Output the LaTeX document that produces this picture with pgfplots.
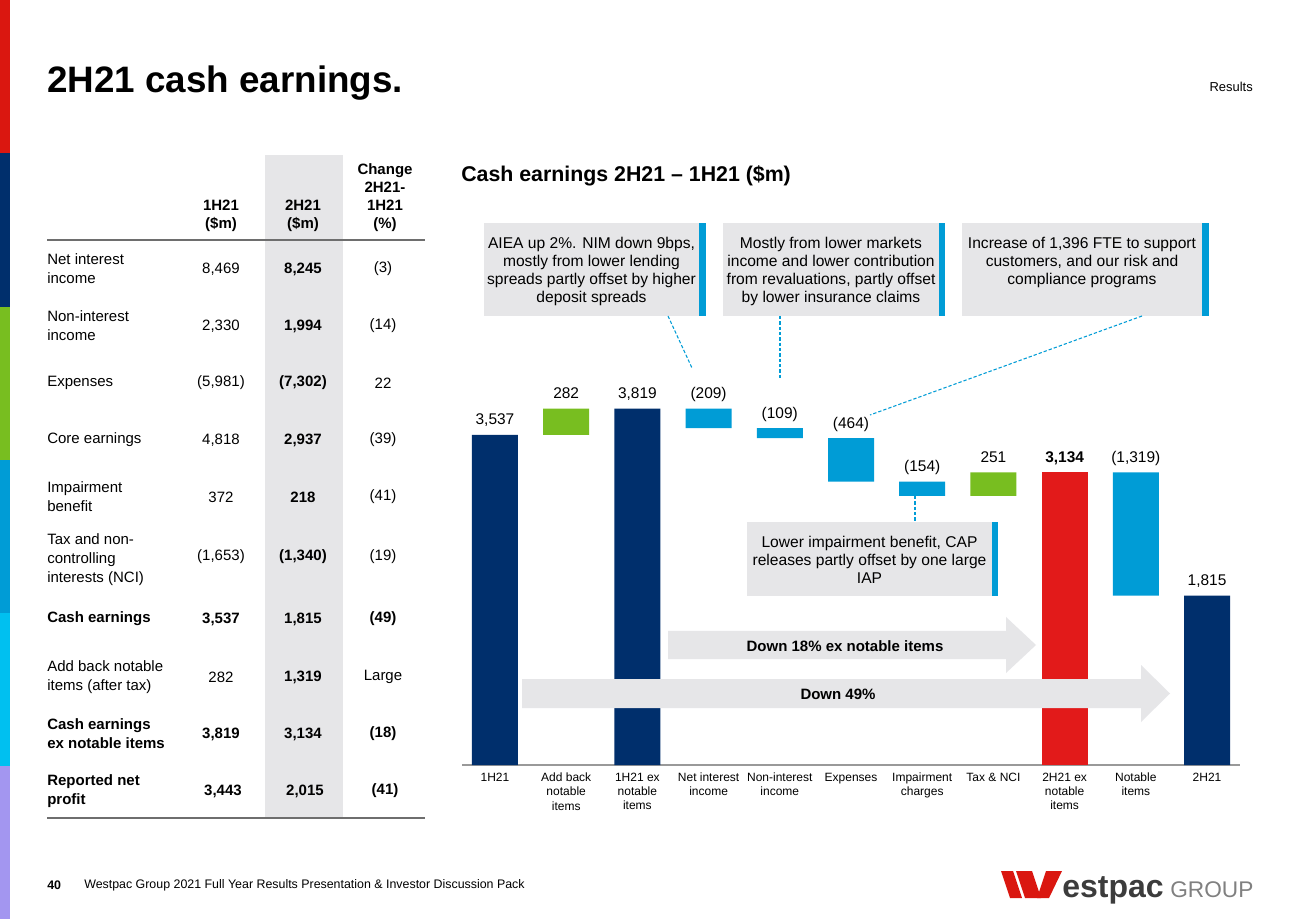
\documentclass[border=0pt]{standalone}
\usepackage{fontspec}
\setmainfont{Liberation Sans}
\usepackage{pgfplots}
\pgfplotsset{compat=1.18}
\usepackage{pgfplotstable}

\definecolor{navy}{HTML}{002F6C}
\definecolor{wgreen}{HTML}{78BE20}
\definecolor{wblue}{HTML}{009CD6}
\definecolor{wred}{HTML}{E21A1A}
\definecolor{boxgrey}{HTML}{E6E6E8}
\definecolor{stred}{HTML}{DA1710}
\definecolor{stcyan}{HTML}{00C0F0}
\definecolor{stlav}{HTML}{A396F0}
\definecolor{rulegrey}{HTML}{6E6E6E}
\definecolor{logogrey}{HTML}{3C3C3C}

\newcommand{\fs}[2]{\fontsize{#1}{#2}\selectfont}
\tikzset{lbl/.style={anchor=base, inner sep=0, yshift=7.5pt, font=\fs{11.6pt}{13pt}}}

\pgfplotstableread{
x base navy green blue red
0 0 3537 0 0 0
1 3537 0 282 0 0
2 0 3819 0 0 0
3 3610 0 0 209 0
4 3501 0 0 109 0
5 3037 0 0 464 0
6 2883 0 0 154 0
7 2883 0 251 0 0
8 0 0 0 0 3134
9 1815 0 0 1319 0
10 0 1815 0 0 0
}\wfdata

\begin{document}
\begin{tikzpicture}
\begin{scope}[x=0.75pt,y=-0.75pt]
\path[use as bounding box] (0,0) rectangle (1300,919);
\fill[white] (0,0) rectangle (1300,919);
% left stripe
\fill[stred] (0,0) rectangle (10,153);
\fill[navy] (0,153) rectangle (10,307);
\fill[wgreen] (0,307) rectangle (10,460);
\fill[wblue] (0,460) rectangle (10,613);
\fill[stcyan] (0,613) rectangle (10,766);
\fill[stlav] (0,766) rectangle (10,919);

% title
\node[anchor=base west, inner sep=0] at (47,93) {\fs{27.6pt}{30pt}\bfseries 2H21 cash earnings.};
\node[anchor=east, inner sep=0] at (1253,87) {\fs{9.7pt}{11pt}Results};

% table
\fill[boxgrey] (265,155) rectangle (343,818);
\draw[rulegrey, line width=1.2pt] (47,240) -- (425,240);
\draw[rulegrey, line width=1.2pt] (47,818) -- (425,818);
\begin{scope}[every node/.style={inner sep=0, align=center, font=\fs{11.25pt}{13.5pt}\bfseries}]
\node at (221,216) {1H21\\(\$m)};
\node at (303,216) {2H21\\(\$m)};
\node at (385,198) {Change\\2H21-\\1H21\\(\%)};
\end{scope}
\begin{scope}[every node/.style={inner sep=0, align=left, anchor=west, font=\fs{11.25pt}{14.25pt}}]
\node at (47,269) {Net interest\\income};
\node at (47,326) {Non-interest\\income};
\node at (47,383) {Expenses};
\node at (47,440) {Core earnings};
\node at (47,497) {Impairment\\benefit};
\node at (47,560) {Tax and non-\\controlling\\interests (NCI)};
\node at (47,677) {Add back notable\\items (after tax)};
\end{scope}
\begin{scope}[every node/.style={inner sep=0, align=left, anchor=west, font=\fs{11.25pt}{14.25pt}\bfseries}]
\node at (47,619) {Cash earnings};
\node at (47,734) {Cash earnings\\ex notable items};
\node at (47,791) {Reported net\\profit};
\end{scope}
\begin{scope}[every node/.style={inner sep=0, font=\fs{11.25pt}{14.25pt}}]
\node at (221,269) {8,469};   \node at (303,269) {\bfseries 8,245};   \node at (383,269) {(3)};
\node at (221,326) {2,330};   \node at (303,326) {\bfseries 1,994};   \node at (383,326) {(14)};
\node at (221,383) {(5,981)}; \node at (303,383) {\bfseries (7,302)}; \node at (383,383) {22};
\node at (221,440) {4,818};   \node at (303,440) {\bfseries 2,937};   \node at (383,440) {(39)};
\node at (221,497) {372};     \node at (303,497) {\bfseries 218};     \node at (383,497) {(41)};
\node at (221,557) {(1,653)}; \node at (303,557) {\bfseries (1,340)}; \node at (383,557) {(19)};
\node at (221,619) {\bfseries 3,537}; \node at (303,619) {\bfseries 1,815}; \node at (383,619) {\bfseries (49)};
\node at (221,677) {282};     \node at (303,677) {\bfseries 1,319};   \node at (383,677) {Large};
\node at (221,734) {\bfseries 3,819}; \node at (303,734) {\bfseries 3,134}; \node at (383,734) {\bfseries (18)};
\node at (223,791) {\bfseries 3,443}; \node at (305,791) {\bfseries 2,015}; \node at (385,791) {\bfseries (41)};
\end{scope}

% chart title
\node[anchor=west, inner sep=0] at (461,176) {\fs{16pt}{18pt}\bfseries Cash earnings 2H21 -- 1H21 (\$m)};

% annotation boxes
\fill[boxgrey] (484,223) rectangle (699,316); \fill[wblue] (699,223) rectangle (706,316);
\fill[boxgrey] (723,223) rectangle (939,316); \fill[wblue] (939,223) rectangle (945,316);
\fill[boxgrey] (962,223) rectangle (1202,316); \fill[wblue] (1202,223) rectangle (1209,316);
\fill[boxgrey] (747,522) rectangle (992,596); \fill[wblue] (992,522) rectangle (998,596);
\begin{scope}[every node/.style={inner sep=0, align=center, font=\fs{11.7pt}{13.5pt}}]
\node at (591.5,271) {AIEA up 2\%. NIM down 9bps,\\mostly from lower lending\\spreads partly offset by higher\\deposit spreads};
\node at (831,271) {Mostly from lower markets\\income and lower contribution\\from revaluations, partly offset\\by lower insurance claims};
\node at (1082,262) {Increase of 1,396 FTE to support\\customers, and our risk and\\compliance programs};
\node at (869.5,560) {Lower impairment benefit, CAP\\releases partly offset by one large\\IAP};
\end{scope}
\begin{scope}[wblue, line width=0.8pt, dash pattern=on 2.5pt off 1.5pt]
\draw (668,316) -- (692,368);
\draw (780,316) -- (780,378);
\draw (1142,316) -- (870,415);
\draw (915,496) -- (915,522);
\end{scope}
\end{scope}

% waterfall
\begin{axis}[at={(346.5pt,-573.75pt)}, anchor=south west,
  width=583.5pt, height=420pt, scale only axis,
  xmin=-0.463, xmax=10.463, ymin=0, ymax=6000,
  axis x line=bottom, axis y line=none,
  x axis line style={-, draw=gray!80, line width=1.2pt},
  ytick=\empty,
  xtick={0,...,10},
  xticklabels={{1H21},{Add back\\notable\\items},{1H21 ex\\notable\\items},{Net interest\\income},{Non-interest\\income},{Expenses},{Impairment\\charges},{Tax \& NCI},{2H21 ex\\notable\\items},{Notable\\items},{2H21}},
  major tick length=0,
  xticklabel style={font=\fs{9pt}{10.6pt}, align=center, anchor=north, yshift=-2.5pt},
  ybar stacked, bar width=34.5pt,
  clip=false]
\addplot[draw=none, fill=none] table[x=x,y=base]{\wfdata};
\addplot[draw=none, fill=navy] table[x=x,y=navy]{\wfdata};
\addplot[draw=none, fill=wgreen] table[x=x,y=green]{\wfdata};
\addplot[draw=none, fill=wblue] table[x=x,y=blue]{\wfdata};
\addplot[draw=none, fill=wred] table[x=x,y=red]{\wfdata};
\node[lbl] at (axis cs:0,3537) {3,537};
\node[lbl] at (axis cs:1,3819) {282};
\node[lbl] at (axis cs:2,3819) {3,819};
\node[lbl] at (axis cs:3,3819) {(209)};
\node[lbl] at (axis cs:4,3610) {(109)};
\node[lbl] at (axis cs:5,3501) {(464)};
\node[lbl] at (axis cs:6,3037) {(154)};
\node[lbl] at (axis cs:7,3134) {251};
\node[lbl] at (axis cs:8,3134) {\bfseries 3,134};
\node[lbl] at (axis cs:9,3134) {(1,319)};
\node[lbl] at (axis cs:10,1815) {1,815};
\end{axis}

\begin{scope}[x=0.75pt,y=-0.75pt]
% arrows
\fill[boxgrey] (668,631) -- (1006,631) -- (1006,617) -- (1036,645) -- (1006,673) -- (1006,659) -- (668,659) -- cycle;
\node[inner sep=0] at (845,646) {\fs{11.25pt}{13pt}\bfseries Down 18\% ex notable items};
\fill[boxgrey] (522,679) -- (1141,679) -- (1141,665) -- (1170,693.5) -- (1141,722) -- (1141,708) -- (522,708) -- cycle;
\node[inner sep=0] at (838,694) {\fs{11.25pt}{13pt}\bfseries Down 49\%};

% footer
\node[anchor=west, inner sep=0] at (47,885) {\fs{9.3pt}{11pt}\bfseries 40};
\node[anchor=west, inner sep=0] at (84,885) {\fs{9.3pt}{11pt}Westpac Group 2021 Full Year Results Presentation \& Investor Discussion Pack};
% logo
\fill[stred] (1001,871) -- (1013,871) -- (1022,898) -- (1010,898) -- cycle;
\fill[stred] (1016,871) -- (1032,871) -- (1041,898) -- (1025,898) -- cycle;
\fill[stred] (1046,871) -- (1062,871) -- (1049,898) -- (1037,898) -- cycle;
\node[anchor=base west, inner sep=0] at (1062,897) {\fs{24pt}{26pt}\bfseries\color{logogrey}estpac};
\node[anchor=base west, inner sep=0] at (1170,897) {\fs{17pt}{19pt}\color{gray}GROUP};
\end{scope}
\end{tikzpicture}
\end{document}
